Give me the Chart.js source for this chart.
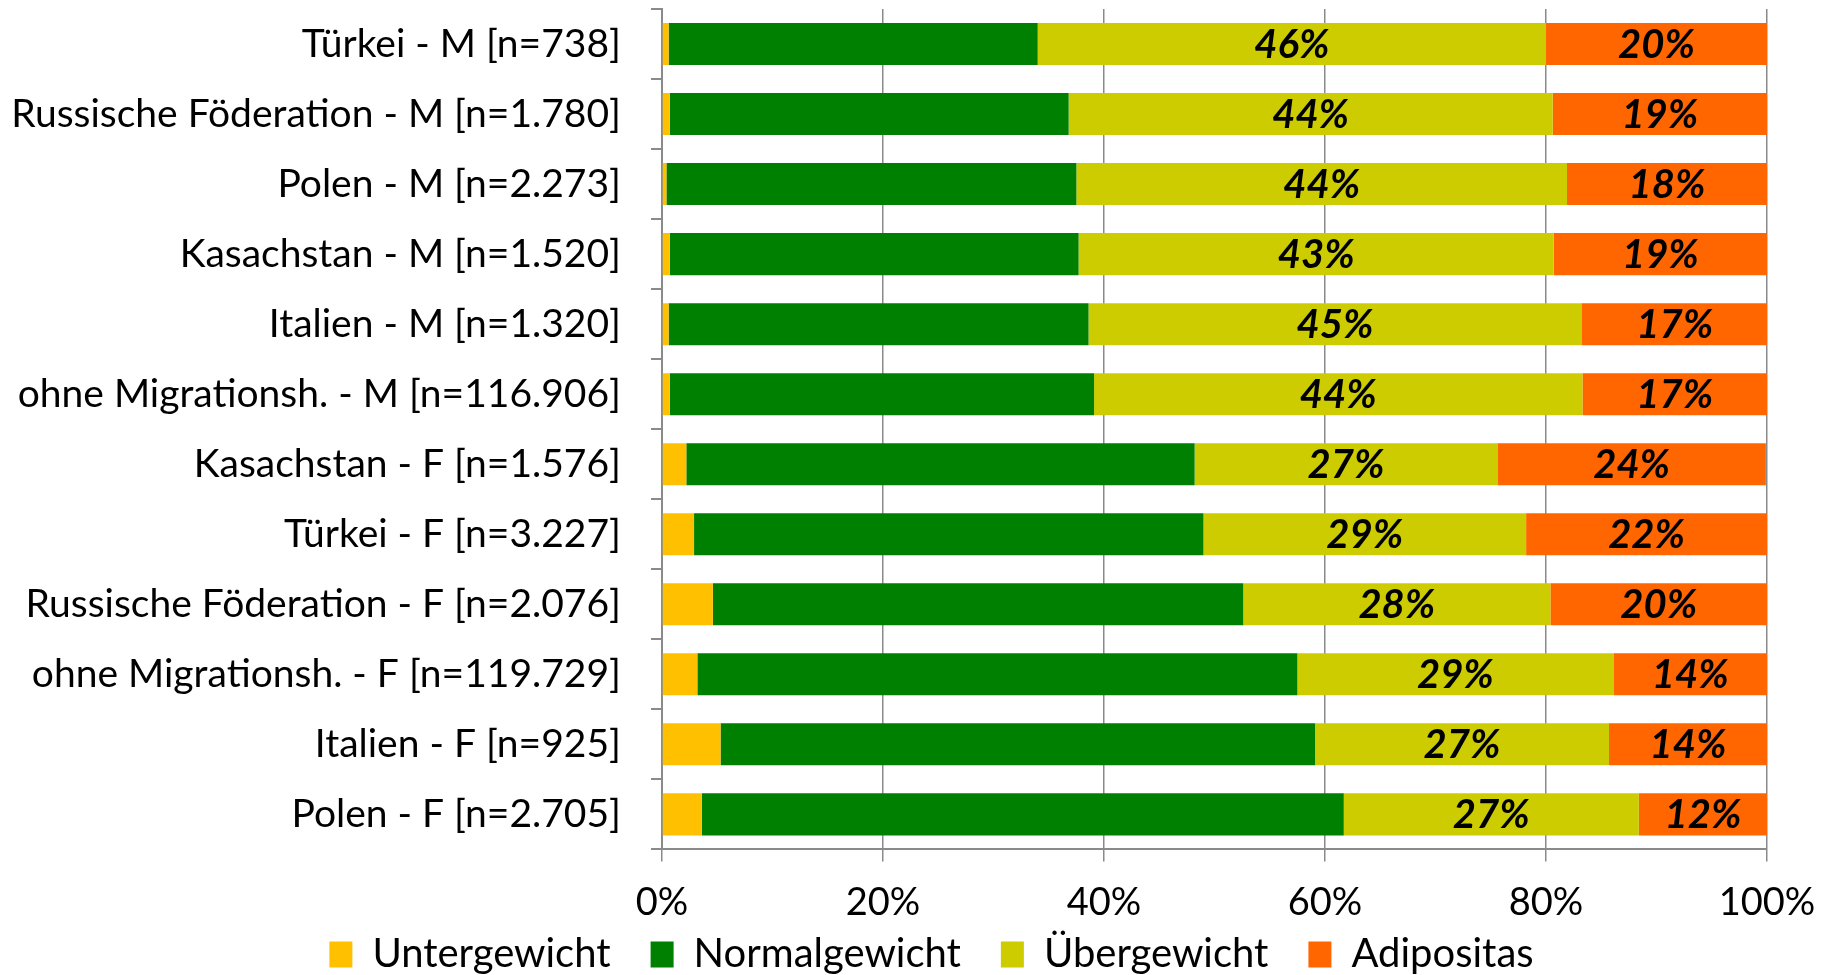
<!DOCTYPE html>
<html>
<head>
<meta charset="utf-8">
<script src="https://cdn.jsdelivr.net/npm/chart.js@4/dist/chart.umd.min.js"></script>
<style>
  html, body { margin: 0; padding: 0; background: #fff; }
  #wrap { width: 1828px; height: 975px; position: relative; }
</style>
</head>
<body>
<div id="wrap"><canvas id="bmiChart"></canvas></div>
<script>
// === Data ===
const groups = [
  "Türkei - M [n=738]",
  "Russische Föderation - M [n=1.780]",
  "Polen - M [n=2.273]",
  "Kasachstan - M [n=1.520]",
  "Italien - M [n=1.320]",
  "ohne Migrationsh. - M [n=116.906]",
  "Kasachstan - F [n=1.576]",
  "Türkei - F [n=3.227]",
  "Russische Föderation - F [n=2.076]",
  "ohne Migrationsh. - F [n=119.729]",
  "Italien - F [n=925]",
  "Polen - F [n=2.705]"
];
const untergewicht  = [0.6, 0.7, 0.4, 0.7, 0.6, 0.7, 2.2, 2.9, 4.6, 3.2, 5.3, 3.6];
const normalgewicht = [33.4, 36.1, 37.1, 37.0, 38.0, 38.4, 46.0, 46.1, 48.0, 54.3, 53.8, 58.1];
const uebergewicht  = [46.0, 43.8, 44.4, 43.0, 44.6, 44.2, 27.4, 29.2, 27.8, 28.6, 26.6, 26.7];
const adipositas    = [20.0, 19.4, 18.1, 19.3, 16.9, 16.7, 24.3, 21.8, 19.6, 13.9, 14.3, 11.6];
const xTicks = [0, 20, 40, 60, 80, 100];

const FONT = "Lato, 'Open Sans', sans-serif";
const gridGray = "#8a8a8a";

// === Value labels inside Übergewicht / Adipositas ===
const barLabels = {
  id: "barLabels",
  afterDatasetsDraw(chart) {
    const ctx = chart.ctx;
    ctx.save();
    ctx.font = "italic bold 40px " + FONT;
    ctx.fillStyle = "#000";
    ctx.textAlign = "center";
    ctx.textBaseline = "middle";
    [2, 3].forEach(di => {
      const meta = chart.getDatasetMeta(di);
      const data = chart.data.datasets[di].data;
      meta.data.forEach((bar, i) => {
        const p = bar.getProps(["x", "y", "base"], true);
        ctx.fillText(Math.round(data[i]) + "%", (p.x + p.base) / 2, p.y + 1);
      });
    });
    ctx.restore();
  }
};

// legend padding is wide (item spacing), so let its box start higher up
// and sit a little right of centre like the original
const legendNudge = {
  id: "legendNudge",
  afterLayout(chart) {
    const lg = chart.legend;
    if (!lg) return;
    lg.top = chart.chartArea.bottom + 45;
    lg.bottom = chart.height;
    lg.left += 48;
    lg.right += 48;
  }
};

new Chart(document.getElementById("bmiChart"), {
  type: "bar",
  data: {
    labels: groups,
    datasets: [
      { label: "Untergewicht", data: untergewicht, backgroundColor: "#FFC000" },
      { label: "Normalgewicht", data: normalgewicht, backgroundColor: "#008000" },
      { label: "Übergewicht", data: uebergewicht, backgroundColor: "#CCCC00" },
      { label: "Adipositas", data: adipositas, backgroundColor: "#FF6600" }
    ]
  },
  options: {
    indexAxis: "y",
    responsive: true,
    maintainAspectRatio: false,
    animation: false,
    datasets: { bar: { categoryPercentage: 1, barPercentage: 0.6, borderWidth: 0 } },
    layout: { padding: { top: 9, right: 61, left: 0, bottom: -4 } },
    scales: {
      x: {
        stacked: true,
        min: 0, max: 100,
        afterBuildTicks: s => { s.ticks = xTicks.map(v => ({ value: v })); },
        afterFit: s => { s.paddingLeft = 0; s.paddingRight = 0; },
        ticks: { callback: v => v + "%", color: "#000", font: { family: FONT, size: 38 }, padding: 19, maxRotation: 0 },
        grid: { color: gridGray, lineWidth: 1.5, tickLength: 12, tickColor: gridGray },
        border: { color: gridGray, width: 2 }
      },
      y: {
        stacked: true,
        afterFit: s => { s.width = 662; s.paddingTop = 0; s.paddingBottom = 0; },
        ticks: { color: "#000", font: { family: FONT, size: 39 }, padding: 30 },
        grid: { drawOnChartArea: false, tickLength: 11, color: gridGray, lineWidth: 2 },
        border: { color: gridGray, width: 2 }
      }
    },
    plugins: {
      legend: {
        position: "bottom",
        maxHeight: 34,
        labels: { boxWidth: 23, boxHeight: 26, padding: 40, color: "#000", font: { family: FONT, size: 40 } }
      },
      tooltip: { enabled: false }
    }
  },
  plugins: [barLabels, legendNudge]
});
</script>
</body>
</html>
